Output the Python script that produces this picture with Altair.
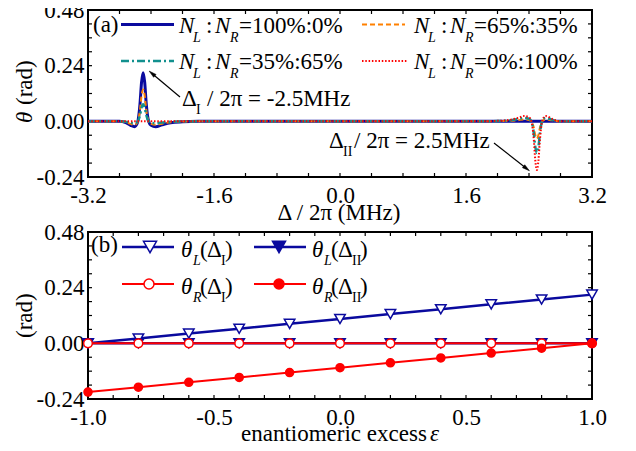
import altair as alt
import pandas as pd

FONT = "'Liberation Serif', 'Times New Roman', 'DejaVu Serif', serif"
NAVY = "#0a0a9e"
ORANGE = "#ff8000"
TEAL = "#12908e"
RED = "#ff0000"

# ---------------- panel (a) data ----------------
delta = [-3.2, -2.8, -2.72, -2.66, -2.61, -2.57, -2.54, -2.52, -2.5, -2.48, -2.46, -2.43,
         -2.4, -2.34, -2.26, -2.15, -2.0, -1.8, 0.0, 1.8, 2.0, 2.15, 2.26, 2.34, 2.4, 2.43,
         2.46, 2.48, 2.5, 2.52, 2.54, 2.57, 2.61, 2.66, 2.72, 2.8, 3.2]
theta_100_0 = [0, 0, -0.006, -0.017, -0.023, -0.004, 0.074, 0.168, 0.21, 0.168, 0.074, 0.0,
               -0.017, -0.023, -0.015, -0.006, -0.002, 0, 0,
               0, 0, 0, 0, 0, 0, 0, 0, 0, 0, 0, 0, 0, 0, 0, 0, 0, 0]
theta_65_35 = [0, 0, -0.004, -0.011, -0.015, -0.003, 0.048, 0.11, 0.137, 0.11, 0.048, 0.0,
               -0.011, -0.015, -0.01, -0.004, -0.001, 0, 0,
               0, 0.001, 0.002, 0.005, 0.008, 0.006, 0, -0.026, -0.059, -0.074, -0.059, -0.026,
               0.001, 0.008, 0.006, 0.002, 0, 0]
theta_35_65 = [0, 0, -0.002, -0.006, -0.008, -0.001, 0.026, 0.059, 0.074, 0.059, 0.026, 0.0,
               -0.006, -0.008, -0.005, -0.002, -0.001, 0, 0,
               0, 0.001, 0.004, 0.01, 0.015, 0.011, 0, -0.048, -0.11, -0.137, -0.11, -0.048,
               0.003, 0.015, 0.011, 0.004, 0, 0]
theta_0_100 = [0, 0, 0, 0, 0, 0, 0, 0, 0, 0, 0, 0, 0, 0, 0, 0, 0, 0, 0,
               0, 0.002, 0.006, 0.015, 0.023, 0.017, 0, -0.074, -0.168, -0.21, -0.168, -0.074,
               0.004, 0.023, 0.017, 0.006, 0, 0]

# ---------------- panel (b) data ----------------
eps = [-1.0, -0.8, -0.6, -0.4, -0.2, 0.0, 0.2, 0.4, 0.6, 0.8, 1.0]
thL_I = [0.0, 0.021, 0.042, 0.063, 0.084, 0.105, 0.126, 0.147, 0.168, 0.189, 0.21]
thL_II = [0.0, 0.0, 0.0, 0.0, 0.0, 0.0, 0.0, 0.0, 0.0, 0.0, 0.0]
thR_I = [0.0, 0.0, 0.0, 0.0, 0.0, 0.0, 0.0, 0.0, 0.0, 0.0, 0.0]
thR_II = [-0.21, -0.189, -0.168, -0.147, -0.126, -0.105, -0.084, -0.063, -0.042, -0.021, 0.0]

# ---------------- ticks ----------------
xa_ticks = [-3.2, -2.8, -2.4, -2.0, -1.6, -1.2, -0.8, -0.4, 0.0, 0.4, 0.8, 1.2, 1.6, 2.0, 2.4, 2.8, 3.2]
xa_labels = [-3.2, -1.6, 0.0, 1.6, 3.2]
xb_ticks = [-1.0, -0.9, -0.8, -0.7, -0.6, -0.5, -0.4, -0.3, -0.2, -0.1, 0.0,
            0.1, 0.2, 0.3, 0.4, 0.5, 0.6, 0.7, 0.8, 0.9, 1.0]
xb_labels = [-1.0, -0.5, 0.0, 0.5, 1.0]
y_ticks = [-0.24, -0.18, -0.12, -0.06, 0.0, 0.06, 0.12, 0.18, 0.24, 0.30, 0.36, 0.42, 0.48]
y_labels = [-0.24, 0.0, 0.24, 0.48]

W, H = 504, 167
L0, TA, TB = 89, 9, 231  # reference plot-area origins (page px)
one = pd.DataFrame({"d": [0]})
MINUS = "replace(datum.label, '\u2212', '-')"


def axis(values, fmt, pad):
    return alt.Axis(values=values, format=fmt, labelExpr=MINUS, ticks=False, domain=False,
                    grid=False, labelFont=FONT, labelFontSize=23, labelColor="black",
                    labelPadding=pad, labelFlush=False, labelOverlap=False, title=None)


def txt(x, y, s, top, size=23, italic=False, align="left", angle=0):
    kw = dict(text=s, font=FONT, fontSize=size, align=align, baseline="alphabetic", color="black")
    if italic:
        kw["fontStyle"] = "italic"
    if angle:
        kw["angle"] = angle
    return alt.Chart(one).mark_text(**kw).encode(x=alt.value(x - L0), y=alt.value(y - top))


def seg(x1, y1, x2, y2, top, color, width, dash=None):
    kw = dict(color=color, strokeWidth=width)
    if dash:
        kw["strokeDash"] = dash
    return alt.Chart(one).mark_rule(**kw).encode(
        x=alt.value(x1 - L0), y=alt.value(y1 - top), x2=alt.value(x2 - L0), y2=alt.value(y2 - top))


def sym(x, y, top, shape, size, fill, stroke, angle=0, sw=1.5):
    kw = dict(shape=shape, size=size, filled=True, fill=fill, stroke=stroke, strokeWidth=sw, opacity=1)
    if angle:
        kw["angle"] = angle
    return alt.Chart(one).mark_point(**kw).encode(x=alt.value(x - L0), y=alt.value(y - top))


def tick_layers(X, Y, xt):
    dx = pd.DataFrame({"x": xt})
    dy = pd.DataFrame({"y": y_ticks})
    r = dict(color="black", strokeWidth=1.2)
    return [
        alt.Chart(dx).mark_rule(**r).encode(x=X, y=alt.value(H), y2=alt.value(H - 4)),
        alt.Chart(dx).mark_rule(**r).encode(x=X, y=alt.value(0), y2=alt.value(4)),
        alt.Chart(dy).mark_rule(**r).encode(y=Y, x=alt.value(0), x2=alt.value(4)),
        alt.Chart(dy).mark_rule(**r).encode(y=Y, x=alt.value(W), x2=alt.value(W - 4)),
    ]


# ================= panel (a) =================
Xa = alt.X("x:Q", scale=alt.Scale(domain=[-3.2, 3.2], nice=False, zero=False),
           axis=axis(xa_labels, ".1f", 7))
Ya = alt.Y("y:Q", scale=alt.Scale(domain=[-0.24, 0.48], nice=False, zero=False),
           axis=axis(y_labels, ".2f", 4))


def series_a(vals, color, width, dash=None):
    kw = dict(color=color, strokeWidth=width, interpolate="monotone")
    if dash:
        kw["strokeDash"] = dash
    return alt.Chart(pd.DataFrame({"x": delta, "y": vals})).mark_line(**kw).encode(x=Xa, y=Ya)


DASH_O = [5, 3]
DASH_T = [8, 3, 2, 3]
DASH_R = [1.5, 1.8]

layers_a = tick_layers(Xa, Ya, xa_ticks) + [
    series_a(theta_100_0, NAVY, 3),
    series_a(theta_65_35, ORANGE, 2, DASH_O),
    series_a(theta_35_65, TEAL, 2.5, DASH_T),
    series_a(theta_0_100, RED, 2, DASH_R),
]


def ratio_label(x, base, rest, top):
    return [
        txt(x, base, "N", top, italic=True),
        txt(x + 14, base + 9, "L", top, size=14, italic=True),
        txt(x + 27, base, ":", top),
        txt(x + 36, base, "N", top, italic=True),
        txt(x + 51, base + 9, "R", top, size=14, italic=True),
        txt(x + 60, base, rest, top),
    ]


layers_a += [txt(94, 31, "(a)", TA)]
layers_a += [seg(122, 23.5, 175, 23.5, TA, NAVY, 3)] + ratio_label(180, 32, "=100%:0%", TA)
layers_a += [seg(363, 23.5, 406, 23.5, TA, ORANGE, 2, DASH_O)] + ratio_label(415, 32, "=65%:35%", TA)
layers_a += [seg(122, 60, 175, 60, TA, TEAL, 2.5, DASH_T)] + ratio_label(180, 68, "=35%:65%", TA)
layers_a += [seg(363, 60, 408, 60, TA, RED, 2, DASH_R)] + ratio_label(415, 68, "=0%:100%", TA)

# annotations
layers_a += [
    txt(183, 105, "\u0394", TA), txt(197, 113, "I", TA, size=14), txt(208, 105, "/ 2\u03c0 = -2.5MHz", TA),
    seg(181, 96, 153, 72.5, TA, "black", 1.2),
    sym(153, 72.5, TA, "M0,-1L0.5,1L-0.5,1Z", 55, "black", "black", angle=310, sw=0.5),
    txt(330, 147, "\u0394", TA), txt(344, 155, "II", TA, size=14), txt(355, 147, "/ 2\u03c0 = 2.5MHz", TA),
    seg(495, 142, 527.5, 167.5, TA, "black", 1.2),
    sym(527.5, 167.5, TA, "M0,-1L0.5,1L-0.5,1Z", 55, "black", "black", angle=128, sw=0.5),
]
# axis titles
layers_a += [
    txt(33, 122, "\u03b8", TA, italic=True, angle=270),
    txt(33, 104, "(rad)", TA, angle=270),
    txt(340, 219, "\u0394 / 2\u03c0 (MHz)", TA, align="center"),
]

panel_a = alt.layer(*layers_a).properties(width=W, height=H)

# ================= panel (b) =================
Xb = alt.X("x:Q", scale=alt.Scale(domain=[-1.0, 1.0], nice=False, zero=False),
           axis=axis(xb_labels, ".1f", 7))
Yb = alt.Y("y:Q", scale=alt.Scale(domain=[-0.24, 0.48], nice=False, zero=False),
           axis=axis(y_labels, ".2f", 4))


def series_b(vals, color, width, shape, size, fill):
    d = pd.DataFrame({"x": eps, "y": vals})
    return [
        alt.Chart(d).mark_line(color=color, strokeWidth=width).encode(x=Xb, y=Yb),
        alt.Chart(d).mark_point(shape=shape, size=size, filled=True, fill=fill, stroke=color,
                                strokeWidth=1.5, opacity=1).encode(x=Xb, y=Yb),
    ]


layers_b = tick_layers(Xb, Yb, xb_ticks)
layers_b += series_b(thL_I, NAVY, 2.5, "triangle-down", 110, "white")
layers_b += series_b(thL_II, NAVY, 2.5, "triangle-down", 110, NAVY)
layers_b += series_b(thR_I, RED, 2, "circle", 75, "white")
layers_b += series_b(thR_II, RED, 2, "circle", 65, RED)


def theta_label(x, base, sub, dsub, top):
    close = 48 if dsub == "II" else 44
    return [
        txt(x, base, "\u03b8", top, italic=True),
        txt(x + 12, base + 8, sub, top, size=14, italic=True),
        txt(x + 19, base, "(", top),
        txt(x + 26, base, "\u0394", top),
        txt(x + 40, base + 8, dsub, top, size=14),
        txt(x + close, base, ")", top),
    ]


layers_b += [txt(92, 251, "(b)", TB)]
layers_b += [seg(123, 246, 175, 246, TB, NAVY, 2.5),
             sym(151, 246, TB, "triangle-down", 170, "white", NAVY)] + theta_label(182, 256, "L", "I", TB)
layers_b += [seg(255, 246, 307, 246, TB, NAVY, 2.5),
             sym(280, 246, TB, "triangle-down", 170, NAVY, NAVY)] + theta_label(313, 256, "L", "II", TB)
layers_b += [seg(123, 283, 175, 283, TB, RED, 2),
             sym(150, 283, TB, "circle", 100, "white", RED)] + theta_label(182, 293, "R", "I", TB)
layers_b += [seg(255, 283, 307, 283, TB, RED, 2),
             sym(280, 283, TB, "circle", 100, RED, RED)] + theta_label(313, 293, "R", "II", TB)
layers_b += [
    txt(33, 337, "(rad)", TB, angle=270),
    txt(242, 440, "enantiomeric excess", TB),
    txt(431, 440, "\u03b5", TB, italic=True),
]

panel_b = alt.layer(*layers_b).properties(width=W, height=H)

chart = alt.vconcat(panel_a, panel_b, spacing=55).properties(
    bounds="flush", padding={"left": 5, "top": -10, "right": 0, "bottom": 0}
).configure_view(stroke="black", strokeWidth=2)

chart.save("out.html", embed_options={"renderer": "svg", "actions": False})
